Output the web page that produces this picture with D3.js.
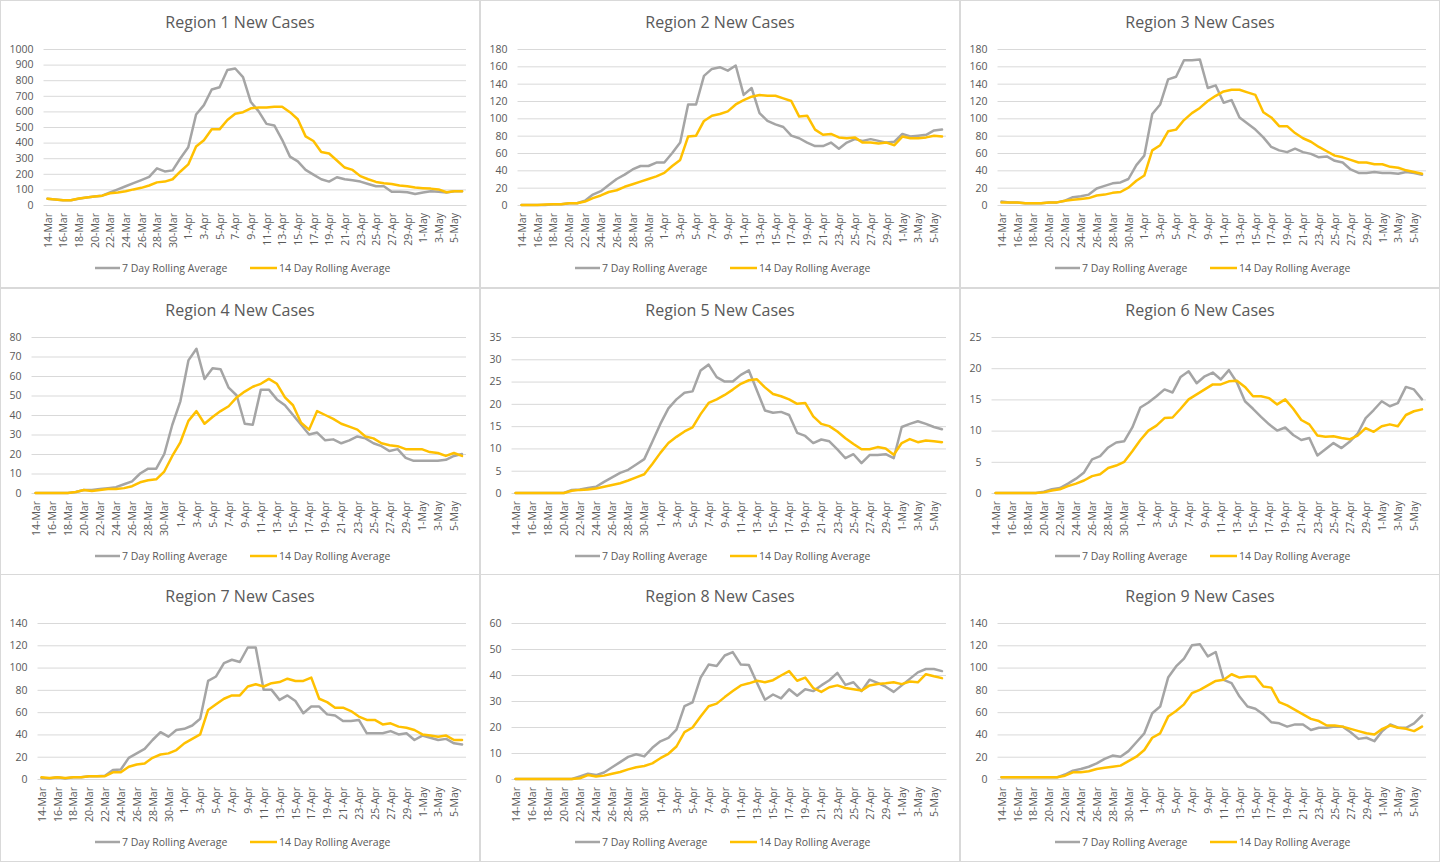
<!DOCTYPE html>
<html>
<head>
<meta charset="utf-8">
<script src="https://cdn.jsdelivr.net/npm/d3@7"></script>
<style>
  body { margin: 0; background: #fff; }
  svg { display: block; }
  text { font-family: "Open Sans", sans-serif; fill: #595959; }
</style>
</head>
<body>
<svg id="chart" width="1440" height="863"></svg>
<script>
// ---------- DATA ----------
const dates = [
  "14-Mar","15-Mar","16-Mar","17-Mar","18-Mar","19-Mar","20-Mar","21-Mar","22-Mar","23-Mar",
  "24-Mar","25-Mar","26-Mar","27-Mar","28-Mar","29-Mar","30-Mar","31-Mar","1-Apr","2-Apr",
  "3-Apr","4-Apr","5-Apr","6-Apr","7-Apr","8-Apr","9-Apr","10-Apr","11-Apr","12-Apr",
  "13-Apr","14-Apr","15-Apr","16-Apr","17-Apr","18-Apr","19-Apr","20-Apr","21-Apr","22-Apr",
  "23-Apr","24-Apr","25-Apr","26-Apr","27-Apr","28-Apr","29-Apr","30-Apr","1-May","2-May",
  "3-May","4-May","5-May","6-May"
];
const seriesNames = ["7 Day Rolling Average", "14 Day Rolling Average"];
const regionTitles = ["Region 1 New Cases","Region 2 New Cases","Region 3 New Cases",
                      "Region 4 New Cases","Region 5 New Cases","Region 6 New Cases",
                      "Region 7 New Cases","Region 8 New Cases","Region 9 New Cases"];
const yMaxima = [1000, 180, 180, 80, 35, 25, 140, 60, 140];
const yTickSteps = [100, 20, 20, 10, 5, 5, 20, 10, 20];

const r1_avg7  = [40,35,30,30,40,48,55,60,80,100, 120,140,160,180,235,215,222,300,370,580, 640,740,755,865,875,820,660,600,520,510, 418,310,280,225,195,165,150,178,165,158, 150,135,120,120,85,85,82,70,80,88, 85,80,88,88];
const r1_avg14 = [40,35,30,30,42,48,55,60,75,80, 88,100,110,125,145,150,165,215,260,375, 415,485,485,545,585,595,620,625,625,630, 630,595,550,440,410,340,330,285,240,225, 185,165,148,140,135,125,120,112,108,105, 100,82,88,88];

const r2_avg7  = [0,0,0,0,1,1,2,2,5,12, 16,23,30,35,41,45,45,49,49,60, 72,116,116,149,157,159,155,161,127,135, 106,97,93,90,80,77,72,68,68,72, 65,72,76,74,76,74,72,73,82,79, 80,81,86,87];
const r2_avg14 = [0,0,0,0.5,1,1,2,2,4,8, 11,15,17,21,24,27,30,33,37,45, 52,79,80,97,103,105,108,116,121,125, 127,126,126,123,120,102,103,87,81,82, 78,77,78,72,72,71,72,69,79,77, 77,78,80,79];

const r3_avg7  = [4,3,3,2,2,2,3,3,5,9, 10,12,19,22,25,26,30,46,57,105, 116,145,148,167,167,168,135,138,118,121, 101,94,87,78,67,63,61,65,61,59, 55,56,51,49,41,37,37,38,37,37, 36,38,37,35];
const r3_avg14 = [3,3,3,2,2,2,3,3,5,6, 7,8,11,12,14,15,20,28,34,63, 69,85,87,98,106,112,120,126,131,133, 133,130,127,107,101,91,91,83,77,73, 67,62,57,55,52,49,49,47,47,44, 43,40,38,36];

const r4_avg7  = [0,0,0,0,0,0.5,1.5,1.5,2,2.5, 3,4.5,6,10,12.5,12.5,20,35,47,68, 74,58.5,64,63.5,54,50,35.5,35,53,53, 48,45,40,35,30,31,27,27.5,25.5,27, 29,28,25.5,24,21.5,22.5,18,16.5,16.5,16.5, 16.5,17,19,20];
const r4_avg14 = [0,0,0,0,0,0.5,1.5,1,1.5,2, 2,2.5,3.5,5.5,6.5,7,11,19,26,37, 42,35.5,39,42,44.5,49,52,54.5,56,58.5, 56,49,45,36,32.5,42,40,38,35.5,34, 32.5,29,28,25.5,24.5,24,22.5,22.5,22.5,21, 20.5,19,20.5,19];

const r5_avg7  = [0,0,0,0,0,0,0,0.7,0.8,1.1, 1.4,2.5,3.5,4.5,5.2,6.4,7.6,11.5,15.5,19, 21,22.5,22.8,27.5,28.8,26,25,25,26.5,27.5, 23,18.5,18,18.2,17.5,13.5,12.8,11.2,12,11.6, 9.8,7.8,8.7,6.7,8.5,8.5,8.7,7.8,14.8,15.5, 16.1,15.5,14.8,14.3];
const r5_avg14 = [0,0,0,0,0,0,0,0.5,0.7,0.8, 1.0,1.4,1.8,2.2,2.8,3.5,4.2,6.5,9,11.2, 12.6,13.8,14.7,17.7,20.2,21,22,23.2,24.5,25.3, 25.5,23.7,22.2,21.7,21,20,20.2,17.2,15.5,15, 13.8,12.3,11,9.8,9.8,10.3,10,8.6,11.2,12.1, 11.4,11.8,11.6,11.4];

const r6_avg7  = [0,0,0,0,0,0,0.2,0.6,0.8,1.5, 2.3,3.3,5.4,5.9,7.3,8.1,8.3,10.5,13.7,14.5, 15.5,16.6,16.1,18.6,19.5,17.6,18.7,19.3,18.2,19.7, 17.7,14.7,13.5,12.2,11,10,10.5,9.3,8.5,8.8, 6.0,7.0,8.0,7.2,8.2,9.5,12,13.3,14.7,13.9, 14.4,17,16.6,15];
const r6_avg14 = [0,0,0,0,0,0,0.1,0.4,0.6,1.1, 1.5,2,2.7,3,4,4.4,5,6.7,8.5,10, 10.8,12,12.1,13.5,15,15.8,16.6,17.4,17.4,17.9, 18,17,15.5,15.5,15.2,14.2,15,13.5,11.7,11, 9.2,9,9.1,8.8,8.6,9.2,10.4,9.8,10.7,11, 10.7,12.5,13.1,13.4];

const r7_avg7  = [1,0.5,1.5,0.5,1.5,1.5,2.5,2.5,3,8, 8.5,19,23,27,35,42,38,44,45,48, 54,88,92,104,107,105,118,118,80,80, 71,75,70,59,65,65,58,57,52,52, 53,41,41,41,43,40,41,35,39,37, 35,36,32,31];
const r7_avg14 = [1.5,1,1.5,1,1.5,1.5,2.5,2.5,2.5,6, 6,11,13,14,19,22,23,26,32,36, 40,62,67,72,75,75,83,85,83,86, 87,90,88,88,91,72,69,64,64,61, 56,53,53,49,50,47,46,44,40,39, 38,39,35,35];

const r8_avg7  = [0,0,0,0,0,0,0,0,1,2, 1.5,2.5,4.5,6.5,8.5,9.5,8.7,12,14.5,15.8, 19,28,29.5,39,44,43.5,47.5,48.8,44,43.8, 37,30.5,32.5,31,34.5,32,34.5,33.8,36,38, 40.8,36.2,37.2,33.8,38.2,37,35.5,33.5,36,38.5, 41,42.3,42.3,41.5];
const r8_avg14 = [0,0,0,0,0,0,0,0,0.3,1.5, 1,1.3,2,2.7,3.7,4.5,5,6,8,9.7, 12.5,18,19.8,24,28,29,31.5,33.8,36,36.8, 37.8,37.2,38,39.8,41.5,37.8,39,35,33.5,35.3, 36,35,34.5,34,36,36.5,36.8,37.2,36.5,37.5, 37.2,40.3,39.5,38.8];

const r9_avg7  = [1.5,1.5,1.5,1.5,1.5,1.5,1.5,1.5,4,7.5, 9,11,14,18,21,20,25,33,41,59, 65,91,101,108,120,121,110,114,89,86, 74,65,63,58,51,50,47,49,49,44, 46,46,47,47,42,36,37,34,43,49, 46,46,50,57];
const r9_avg14 = [1.5,1.5,1.5,1.5,1.5,1.5,1.5,1.5,3,6, 6,7,9,10,11,12,16,20,26,37, 41,56,61,67,77,80,84,88,89,94, 91,92,92,83,82,69,66,62,58,54, 52,48,48,47,45,43,41,40,45,48, 46,45,43,47];

const avg7Series  = [r1_avg7, r2_avg7, r3_avg7, r4_avg7, r5_avg7, r6_avg7, r7_avg7, r8_avg7, r9_avg7];
const avg14Series = [r1_avg14, r2_avg14, r3_avg14, r4_avg14, r5_avg14, r6_avg14, r7_avg14, r8_avg14, r9_avg14];

// ---------- STYLE / LAYOUT ----------
const colors = ["#A5A5A5", "#FFC000"];
const panelW = 480, panelH = 288;
const rowTops = [0, 288, 574];
const plotTop = 49, plotBottom = 205, plotRight = 466;
const smallFont = 10.5;

const svg = d3.select("#chart");

regionTitles.forEach((title, k) => {
  const col = k % 3, row = Math.floor(k / 3);
  const g = svg.append("g").attr("transform", `translate(${col * panelW},${rowTops[row]})`);

  g.append("rect")
    .attr("x", 0.5).attr("y", 0.5)
    .attr("width", panelW - 1).attr("height", panelH - 1)
    .attr("fill", "#fff").attr("stroke", "#d9d9d9").attr("stroke-width", 1);

  g.append("text")
    .attr("x", 240).attr("y", 28)
    .attr("text-anchor", "middle")
    .style("font-size", "16px")
    .text(title);

  const ticks = d3.range(0, yMaxima[k] + yTickSteps[k] / 2, yTickSteps[k]);

  // measure widest tick label to place plot left edge like Excel does
  const probe = g.append("text").style("font-size", smallFont + "px");
  let maxW = 0;
  ticks.forEach(t => { probe.text(String(t)); maxW = Math.max(maxW, probe.node().getComputedTextLength()); });
  probe.remove();
  const plotLeft = 9.5 + maxW + 10;

  const x = d3.scalePoint().domain(dates).range([plotLeft, plotRight]).padding(0.5);
  const y = d3.scaleLinear().domain([0, yMaxima[k]]).range([plotBottom, plotTop]);

  // y axis with gridlines
  const yAxis = g.append("g")
    .attr("transform", `translate(${plotLeft},0)`)
    .call(d3.axisLeft(y).tickValues(ticks).tickSize(-(plotRight - plotLeft)).tickPadding(10).tickFormat(d3.format("d")));
  yAxis.select(".domain").remove();
  yAxis.selectAll(".tick line").attr("stroke", "#d9d9d9").attr("stroke-width", 1);
  yAxis.selectAll(".tick text")
    .attr("fill", "#595959")
    .style("font-family", "'Open Sans', sans-serif")
    .style("font-size", smallFont + "px");

  // x axis (category)
  const xAxis = g.append("g")
    .attr("transform", `translate(0,${plotBottom})`)
    .call(d3.axisBottom(x).tickValues(dates.filter((d, i) => i % 2 === 0)).tickSize(0).tickSizeOuter(0));
  xAxis.select(".domain").attr("stroke", "#d9d9d9");
  xAxis.selectAll(".tick text")
    .attr("transform", "rotate(-90)")
    .attr("text-anchor", "end")
    .attr("x", -8).attr("y", 0).attr("dy", "0.35em")
    .attr("fill", "#595959")
    .style("font-family", "'Open Sans', sans-serif")
    .style("font-size", smallFont + "px");

  // series lines
  const line = d3.line()
    .x((d, i) => x(dates[i]))
    .y(d => y(d));

  [avg7Series[k], avg14Series[k]].forEach((vals, s) => {
    g.append("path")
      .datum(vals)
      .attr("fill", "none")
      .attr("stroke", colors[s])
      .attr("stroke-width", 2.5)
      .attr("stroke-linejoin", "round")
      .attr("stroke-linecap", "round")
      .attr("d", line);
  });

  // legend
  const legendItems = [{x0: 95, x1: 120, tx: 122}, {x0: 250, x1: 277, tx: 279}];
  legendItems.forEach((it, s) => {
    g.append("line")
      .attr("x1", it.x0).attr("x2", it.x1)
      .attr("y1", 268).attr("y2", 268)
      .attr("stroke", colors[s]).attr("stroke-width", 2.5);
    g.append("text")
      .attr("x", it.tx).attr("y", 268).attr("dy", "0.35em")
      .style("font-size", smallFont + "px")
      .text(seriesNames[s]);
  });
});
</script>
</body>
</html>
